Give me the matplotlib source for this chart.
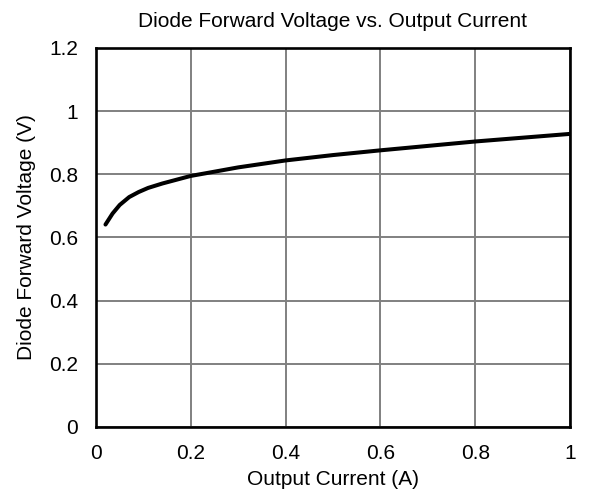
import matplotlib
matplotlib.use("Agg")
import matplotlib.pyplot as plt

plt.rcParams['font.family'] = ['Liberation Sans', 'DejaVu Sans']

current_a = [0.02, 0.035, 0.05, 0.07, 0.09, 0.11, 0.14, 0.175, 0.20, 0.23,
             0.30, 0.40, 0.50, 0.60, 0.70, 0.80, 0.90, 1.00]
forward_v = [0.641, 0.676, 0.703, 0.728, 0.744, 0.757, 0.771, 0.785, 0.795, 0.803,
             0.822, 0.844, 0.861, 0.876, 0.890, 0.904, 0.916, 0.928]

x_ticks = [0, 0.2, 0.4, 0.6, 0.8, 1]
x_labels = ["0", "0.2", "0.4", "0.6", "0.8", "1"]
y_ticks = [0, 0.2, 0.4, 0.6, 0.8, 1, 1.2]
y_labels = ["0", "0.2", "0.4", "0.6", "0.8", "1", "1.2"]

fig = plt.figure(figsize=(5.92, 5.0), dpi=100)
ax = fig.add_axes([96/592, 1 - 427/500, (570-96)/592, (427-48)/500])

ax.plot(current_a, forward_v, color="black", lw=2.9, solid_capstyle="round",
        solid_joinstyle="round", zorder=3)

ax.set_xlim(0, 1)
ax.set_ylim(0, 1.2)
ax.set_xticks(x_ticks)
ax.set_xticklabels(x_labels)
ax.set_yticks(y_ticks)
ax.set_yticklabels(y_labels)
ax.tick_params(axis="x", length=0, labelsize=15, pad=12)
ax.tick_params(axis="y", length=0, labelsize=15, pad=13)
ax.grid(True, color="#808080", lw=1.4)
for s in ax.spines.values():
    s.set_linewidth(1.9)
    s.set_color("black")

ax.set_title("Diode Forward Voltage vs. Output Current", fontsize=15, pad=15)
ax.set_xlabel("Output Current (A)", fontsize=15, labelpad=5)
ax.set_ylabel("Diode Forward Voltage (V)", fontsize=15, labelpad=9)

fig.savefig("out.png", dpi=100)
